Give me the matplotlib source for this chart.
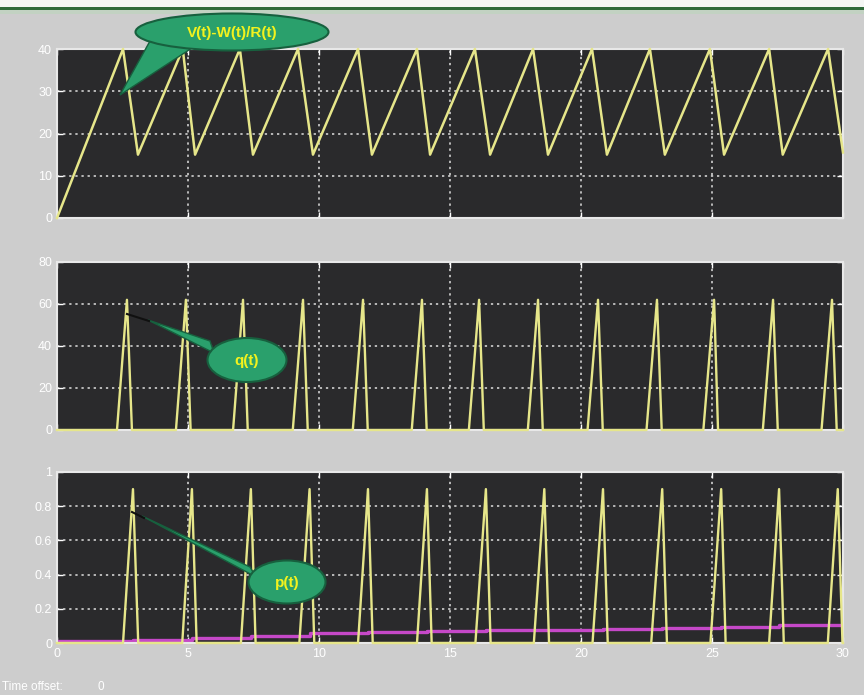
import numpy as np
import matplotlib
matplotlib.use('Agg')
import matplotlib.pyplot as plt
from matplotlib.patches import Ellipse, Polygon, Rectangle

# V(t) - W(t)/R(t): vertices of the charge/discharge sawtooth
V_T = [0.0, 2.52, 3.09, 4.80, 5.27, 6.98, 7.48, 9.20, 9.77, 11.49, 12.02,
       13.74, 14.24, 15.95, 16.53, 18.17, 18.74, 20.42, 20.99, 22.63, 23.20,
       24.92, 25.46, 27.18, 27.70, 29.43, 30.0]
V_VAL = [0, 40, 15, 40, 15, 40, 15, 40, 15, 40, 15, 40, 15, 40, 15, 40, 15,
         40, 15, 40, 15, 40, 15, 40, 15, 40, 15.5]

# q(t): one narrow pulse per discharge
Q_START = [2.29, 4.54, 6.72, 9.00, 11.29, 13.54, 15.72, 17.97, 20.25, 22.50,
           24.67, 26.94, 29.18]
Q_PEAK = [2.67, 4.92, 7.10, 9.39, 11.68, 13.93, 16.11, 18.36, 20.65, 22.90,
          25.08, 27.33, 29.58]
Q_END = [2.86, 5.10, 7.28, 9.57, 11.86, 14.11, 16.29, 18.54, 20.83, 23.08,
         25.23, 27.51, 29.76]
Q_MAX = 62

# p(t): pulses, plus the slowly creeping magenta trace
P_START = [2.52, 4.78, 7.02, 9.25, 11.49, 13.74, 15.97, 18.20, 20.44, 22.68,
           24.94, 27.18, 29.42]
P_PEAK = [2.90, 5.15, 7.40, 9.64, 11.87, 14.12, 16.37, 18.60, 20.84, 23.10,
          25.35, 27.56, 29.80]
P_END = [3.10, 5.33, 7.58, 9.82, 12.05, 14.30, 16.55, 18.78, 21.02, 23.28,
         25.52, 27.74, 29.98]
P_MAX = 0.9

M_T = [0, 2.9, 5.15, 7.4, 9.64, 11.87, 14.12, 16.37, 18.6, 20.84, 23.1,
       25.35, 27.56, 30]
M_VAL = [0.012, 0.02, 0.03, 0.04, 0.06, 0.064, 0.068, 0.074, 0.078, 0.084,
         0.09, 0.096, 0.108, 0.108]

X_TICKS = [0, 5, 10, 15, 20, 25, 30]
Y_TICKS = [[0, 10, 20, 30, 40], [0, 20, 40, 60, 80],
           [0, 0.2, 0.4, 0.6, 0.8, 1]]
Y_TICKLABELS = [['0', '10', '20', '30', '40'], ['0', '20', '40', '60', '80'],
                ['0', '0.2', '0.4', '0.6', '0.8', '1']]

BG = '#cdcdcd'
PANEL = '#2a2a2c'
TRACE = '#e6e68a'
MAGENTA = '#c548c8'


def pulse_train(starts, peaks, ends, height):
    t, y = [0.0], [0.0]
    for s, p, e in zip(starts, peaks, ends):
        t += [s, p, e]
        y += [0.0, height, 0.0]
    t.append(30.0)
    y.append(0.0)
    return t, y


def style_panel(ax, yticks, ylabels, show_x):
    ax.set_facecolor(PANEL)
    ax.set_xlim(0, 30)
    ax.set_ylim(yticks[0], yticks[-1])
    ax.set_xticks(X_TICKS)
    ax.set_yticks(yticks)
    ax.set_yticklabels(ylabels)
    if not show_x:
        ax.set_xticklabels([])
    ax.tick_params(colors='white', direction='in', length=4, width=1,
                   labelsize=9, labelcolor='white', top=True, right=True)
    ax.grid(True, color='white', linestyle=(0, (1.5, 2.5)), linewidth=1.1,
            alpha=0.85)
    for sp in ax.spines.values():
        sp.set_color('#e8e8e8')
        sp.set_linewidth(1.5)


plt.rcParams['font.family'] = ['Liberation Sans', 'DejaVu Sans']
fig = plt.figure(figsize=(8.64, 6.95), dpi=100)
fig.patch.set_facecolor(BG)

left, width = 57 / 864, (843 - 57) / 864
rows = [(49, 218), (262, 430), (472, 643)]
axes = []
for top, bottom in rows:
    axes.append(fig.add_axes([left, 1 - bottom / 695, width,
                              (bottom - top) / 695]))

ax1, ax2, ax3 = axes
style_panel(ax1, Y_TICKS[0], Y_TICKLABELS[0], False)
style_panel(ax2, Y_TICKS[1], Y_TICKLABELS[1], False)
style_panel(ax3, Y_TICKS[2], Y_TICKLABELS[2], True)

ax1.plot(V_T, V_VAL, color=TRACE, linewidth=1.8, solid_joinstyle='round',
         clip_on=False, zorder=3)

qt, qy = pulse_train(Q_START, Q_PEAK, Q_END, Q_MAX)
ax2.plot(qt, qy, color=TRACE, linewidth=1.7, clip_on=False, zorder=3)

ax3.plot(M_T, M_VAL, color=MAGENTA, linewidth=2.4, drawstyle='steps-post',
         zorder=2)
ax3.axhline(0, color='#e0a040', linewidth=1.5, zorder=2, clip_on=False)
pt, py = pulse_train(P_START, P_PEAK, P_END, P_MAX)
ax3.plot(pt, py, color=TRACE, linewidth=1.7, clip_on=False, zorder=3)

# overlay in pixel units for the window strip, callouts and status text
ov = fig.add_axes([0, 0, 1, 1], zorder=10)
ov.set_xlim(0, 864)
ov.set_ylim(695, 0)
ov.axis('off')
ov.patch.set_alpha(0)

ov.add_patch(Rectangle((0, 0), 864, 7, color='#f4f6f4', lw=0))
ov.add_patch(Rectangle((0, 7), 864, 2.5, color='#2f6a3a', lw=0))
ov.add_patch(Rectangle((0, 9.5), 864, 4, color='#c2d2c2', lw=0))

GREEN = '#2aa06c'
EDGE = '#17603e'


def callout(center, w, h, tail, label, pointer=None):
    ov.add_patch(Polygon(tail, closed=True, facecolor=GREEN, edgecolor=EDGE,
                         linewidth=1.0))
    ov.add_patch(Ellipse(center, w, h, facecolor=GREEN, edgecolor=EDGE,
                         linewidth=1.5))
    if pointer is not None:
        ov.plot(*zip(*pointer), color='#101010', linewidth=1.5)
    ov.text(center[0], center[1] + 1, label, color='#f2f21e', fontsize=11,
            fontweight='bold', ha='center', va='center')


callout((232, 32), 193, 37, [(150, 41), (195, 46), (120, 95)],
        'V(t)-W(t)/R(t)')
callout((247, 360), 79, 44, [(148, 320), (210, 341), (214, 353)], 'q(t)',
        pointer=[(127, 314), (149, 321)])
callout((287, 582), 77, 43, [(142, 516), (250, 567), (256, 577)], 'p(t)',
        pointer=[(132, 512), (144, 518)])

ov.text(2, 687, 'Time offset:', color='white', fontsize=8.5, va='center',
        ha='left')
ov.text(97, 687, '0', color='white', fontsize=8.5, va='center', ha='left')

fig.savefig('out.png', dpi=100, facecolor=fig.get_facecolor())
